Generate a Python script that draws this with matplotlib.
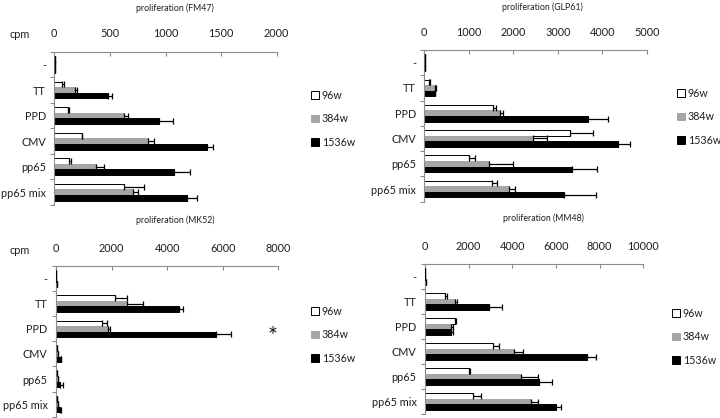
import numpy as np
import matplotlib
matplotlib.use("Agg")
import matplotlib.pyplot as plt
from matplotlib.patches import Patch

plt.rcParams["font.family"] = ["Lato", "DejaVu Sans"]

categories = ["-", "TT", "PPD", "CMV", "pp65", "pp65 mix"]
series = ["96w", "384w", "1536w"]

# FM47
fm47_96 = [5, 66, 120, 246, 132, 627]
fm47_96_err = [0, 21, 12, 6, 15, 180]
fm47_384 = [4, 186, 627, 846, 372, 705]
fm47_384_err = [0, 15, 33, 54, 78, 51]
fm47_1536 = [5, 480, 945, 1376, 1076, 1190]
fm47_1536_err = [0, 36, 120, 48, 144, 96]

# GLP61
glp61_96 = [15, 100, 1537, 3276, 1004, 1514]
glp61_96_err = [0, 20, 75, 525, 135, 127]
glp61_384 = [15, 233, 1702, 2451, 1462, 1912]
glp61_384_err = [0, 40, 75, 300, 540, 120]
glp61_1536 = [20, 233, 3673, 4363, 3313, 3141]
glp61_1536_err = [0, 15, 465, 262, 577, 720]

# MK52
mk52_96 = [15, 2122, 1643, 36, 36, 30]
mk52_96_err = [0, 420, 204, 0, 0, 0]
mk52_384 = [15, 2542, 1882, 84, 72, 70]
mk52_384_err = [0, 575, 60, 0, 0, 0]
mk52_1536 = [20, 4424, 5755, 168, 144, 156]
mk52_1536_err = [0, 156, 540, 20, 96, 20]

# MM48
mm48_96 = [20, 916, 1374, 3099, 2030, 2214]
mm48_96_err = [0, 76, 45, 305, 30, 336]
mm48_384 = [20, 1374, 1190, 4076, 4382, 4840]
mm48_384_err = [0, 76, 76, 427, 780, 320]
mm48_1536 = [25, 2931, 1175, 7405, 5237, 5985]
mm48_1536_err = [0, 580, 120, 427, 565, 245]

W, H = 720, 418
COLORS = ["white", "#a6a6a6", "black"]
SPINE = "#8c8c8c"
TXT = "#1e1e1e"


def px_axes(fig, left, right, top, bottom):
    return fig.add_axes([left / W, 1 - bottom / H, (right - left) / W, (bottom - top) / H])


def panel(fig, box, title, title_xy, vals, errs, xmax, step, cpm_xy, legend_xy):
    ax = px_axes(fig, *box)
    y = np.arange(len(categories))
    bh = 0.22
    for k, (v, e) in enumerate(zip(vals, errs)):
        pos = y + (k - 1) * bh
        ax.barh(pos, v, height=bh, color=COLORS[k],
                edgecolor="black" if k == 0 else COLORS[k], linewidth=0.7, zorder=2)
        ax.errorbar(v, pos, xerr=[np.zeros(len(v)), e], fmt="none",
                    ecolor="black", elinewidth=0.9, capsize=2.2, capthick=0.9, zorder=3)
    ax.set_xlim(0, xmax)
    ax.set_ylim(len(categories) - 0.5, -0.5)
    ax.xaxis.tick_top()
    ax.set_xticks(np.arange(0, xmax + 1, step))
    ax.tick_params(axis="x", direction="in", length=3, color=SPINE, pad=9,
                   labelsize=7.8, labelcolor=TXT)
    ax.set_yticks(np.arange(-0.5, len(categories), 1.0))
    ax.set_yticklabels([])
    ax.tick_params(axis="y", which="major", direction="out", length=3, color=SPINE)
    ax.set_yticks(y, minor=True)
    ax.set_yticklabels(categories, minor=True)
    ax.tick_params(axis="y", which="minor", length=0, pad=6, labelsize=7.8,
                   labelcolor=TXT)
    for s in ["right", "bottom"]:
        ax.spines[s].set_visible(False)
    for s in ["top", "left"]:
        ax.spines[s].set_color(SPINE)
        ax.spines[s].set_linewidth(0.8)
    fig.text(title_xy[0] / W, 1 - title_xy[1] / H, title, ha="center", va="center",
             fontsize=6.3, color=TXT)
    if cpm_xy is not None:
        fig.text(cpm_xy[0] / W, 1 - cpm_xy[1] / H, "cpm", ha="center", va="center",
                 fontsize=7.8, color=TXT)
    handles = [Patch(facecolor=COLORS[k], edgecolor="black" if k == 0 else COLORS[k],
                     linewidth=0.7, label=series[k]) for k in range(3)]
    fig.legend(handles=handles, loc="upper left",
               bbox_to_anchor=(legend_xy[0] / W, 1 - legend_xy[1] / H),
               frameon=False, fontsize=7.7, handlelength=0.75, handleheight=0.75,
               handletextpad=0.25, labelspacing=1.15, borderpad=0, borderaxespad=0,
               labelcolor=TXT)
    return ax


fig = plt.figure(figsize=(W / 100, H / 100), dpi=100)

panel(fig, (54.3, 276.7, 51.7, 205), "proliferation (FM47)", (175, 8),
      [fm47_96, fm47_384, fm47_1536], [fm47_96_err, fm47_384_err, fm47_1536_err],
      2000, 500, (20, 35), (311, 90))
panel(fig, (424.3, 646.7, 50, 201.7), "proliferation (GLP61)", (542, 7),
      [glp61_96, glp61_384, glp61_1536], [glp61_96_err, glp61_384_err, glp61_1536_err],
      5000, 1000, None, (677, 88))
panel(fig, (56, 278.3, 266, 416.7), "proliferation (MK52)", (175, 220),
      [mk52_96, mk52_384, mk52_1536], [mk52_96_err, mk52_384_err, mk52_1536_err],
      8000, 2000, (20, 251), (311, 306))
panel(fig, (425, 643.3, 264.3, 414), "proliferation (MM48)", (543, 218),
      [mm48_96, mm48_384, mm48_1536], [mm48_96_err, mm48_384_err, mm48_1536_err],
      10000, 2000, None, (672, 308))

fig.text(273 / W, 1 - 336 / H, "*", ha="center", va="center", fontsize=17, color=TXT)

fig.savefig("out.png", dpi=100)
